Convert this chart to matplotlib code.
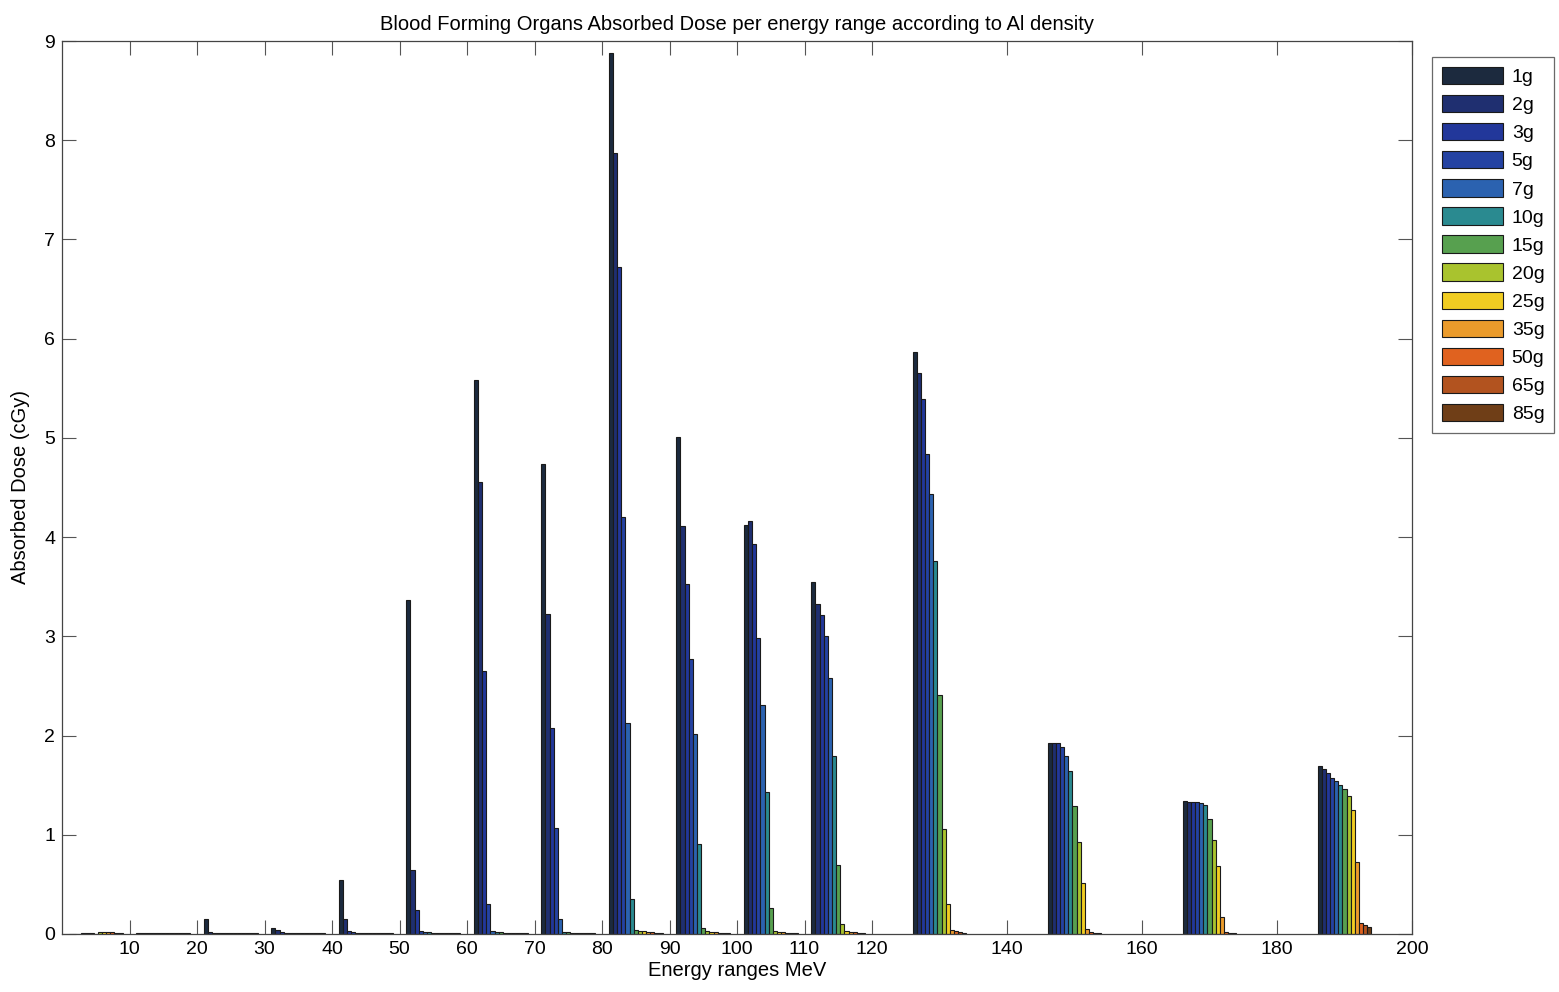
import matplotlib
matplotlib.use("Agg")
import matplotlib.pyplot as plt
import numpy as np

plt.rcParams['font.family'] = ['Liberation Sans', 'DejaVu Sans']

# Energy range centres (MeV)
energies = [5, 15, 25, 35, 45, 55, 65, 75, 85, 95, 105, 115, 130, 150, 170, 190]

# Al shielding densities (series)
densities = ['1g', '2g', '3g', '5g', '7g', '10g', '15g', '20g', '25g', '35g', '50g', '65g', '85g']

# Absorbed dose (cGy) per density, one list per energy range
dose_e5 = [0.00, 0.00, 0.00, 0.01, 0.01, 0.01, 0.00, 0.02, 0.02, 0.02, 0.02, 0.01, 0.01]
dose_e15 = [0.01, 0.01, 0.01, 0.01, 0.01, 0.01, 0.01, 0.01, 0.01, 0.01, 0.01, 0.01, 0.01]
dose_e25 = [0.15, 0.02, 0.01, 0.01, 0.01, 0.01, 0.01, 0.01, 0.01, 0.01, 0.01, 0.01, 0.01]
dose_e35 = [0.06, 0.04, 0.02, 0.01, 0.01, 0.01, 0.01, 0.01, 0.01, 0.01, 0.01, 0.01, 0.01]
dose_e45 = [0.54, 0.15, 0.03, 0.02, 0.01, 0.01, 0.01, 0.01, 0.01, 0.01, 0.01, 0.01, 0.01]
dose_e55 = [3.37, 0.65, 0.24, 0.03, 0.02, 0.02, 0.01, 0.01, 0.01, 0.01, 0.01, 0.01, 0.01]
dose_e65 = [5.58, 4.56, 2.65, 0.30, 0.03, 0.02, 0.02, 0.01, 0.01, 0.01, 0.01, 0.01, 0.01]
dose_e75 = [4.74, 3.23, 2.08, 1.07, 0.15, 0.02, 0.02, 0.01, 0.01, 0.01, 0.01, 0.01, 0.01]
dose_e85 = [8.88, 7.87, 6.72, 4.20, 2.13, 0.35, 0.04, 0.03, 0.03, 0.02, 0.02, 0.01, 0.01]
dose_e95 = [5.01, 4.11, 3.53, 2.77, 2.02, 0.91, 0.06, 0.03, 0.02, 0.02, 0.01, 0.01, 0.01]
dose_e105 = [4.12, 4.16, 3.93, 2.98, 2.31, 1.43, 0.26, 0.03, 0.02, 0.02, 0.01, 0.01, 0.01]
dose_e115 = [3.55, 3.33, 3.22, 3.00, 2.58, 1.79, 0.70, 0.10, 0.03, 0.02, 0.02, 0.01, 0.01]
dose_e130 = [5.87, 5.65, 5.39, 4.84, 4.43, 3.76, 2.41, 1.06, 0.30, 0.04, 0.03, 0.02, 0.01]
dose_e150 = [1.93, 1.93, 1.92, 1.88, 1.79, 1.64, 1.29, 0.93, 0.51, 0.05, 0.02, 0.01, 0.01]
dose_e170 = [1.34, 1.33, 1.33, 1.33, 1.32, 1.30, 1.16, 0.95, 0.69, 0.17, 0.02, 0.01, 0.01]
dose_e190 = [1.69, 1.66, 1.62, 1.57, 1.54, 1.50, 1.46, 1.39, 1.25, 0.73, 0.11, 0.09, 0.07]

dose = np.array([dose_e5, dose_e15, dose_e25, dose_e35, dose_e45, dose_e55, dose_e65,
                 dose_e75, dose_e85, dose_e95, dose_e105, dose_e115, dose_e130,
                 dose_e150, dose_e170, dose_e190])

colors = ['#1c2a3e', '#1f2f70', '#22379a', '#2442a2', '#2b62b0', '#2a8a90',
          '#57a04f', '#a9c32e', '#f1cd22', '#eb9b2b', '#e0621f', '#b2531f', '#6f3e17']

x_ticks = [10, 20, 30, 40, 50, 60, 70, 80, 90, 100, 110, 120, 140, 160, 180, 200]

fig = plt.figure(figsize=(15.59, 9.92), dpi=100)
ax = fig.add_axes([62 / 1559, 1 - 934 / 992, (1412 - 62) / 1559, (934 - 41) / 992])

n = len(densities)
group_w = 8.0
bw = group_w / n
x = np.array(energies, dtype=float)
for i, (lab, col) in enumerate(zip(densities, colors)):
    pos = x - group_w / 2 + (i + 0.5) * bw
    ax.bar(pos, dose[:, i], width=bw, color=col, edgecolor='#1a1a1a',
           linewidth=0.8, label=lab)

ax.set_xlim(0, 200)
ax.set_ylim(0, 9)
ax.set_xticks(x_ticks)
ax.set_yticks(range(0, 10))
ax.tick_params(axis='both', direction='in', length=10, width=0.8, color='#555555',
               labelsize=14, top=True, right=True, pad=5)
for sp in ax.spines.values():
    sp.set_color('#444444')
    sp.set_linewidth(0.9)

ax.set_title('Blood Forming Organs Absorbed Dose per energy range according to Al density',
             fontsize=14.5, pad=8)
ax.set_xlabel('Energy ranges MeV', fontsize=14.5, labelpad=2)
ax.set_ylabel('Absorbed Dose (cGy)', fontsize=14.5, labelpad=10)

leg = fig.legend(loc='upper left', bbox_to_anchor=(1432 / 1559, 1 - 57 / 992),
                 borderaxespad=0, fontsize=14, handlelength=3.15, handleheight=1.0,
                 labelspacing=0.45, handletextpad=0.45, borderpad=0.5,
                 frameon=True, fancybox=False)
leg.get_frame().set_edgecolor('#444444')
leg.get_frame().set_linewidth(0.9)

fig.savefig('out.png', dpi=100)
